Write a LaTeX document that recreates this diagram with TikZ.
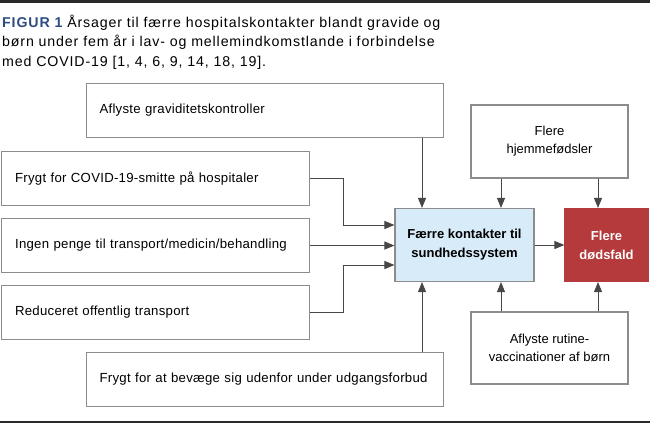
\documentclass[tikz,border=0pt]{standalone}
\usepackage{fontspec}
\setmainfont{Liberation Sans}
\usetikzlibrary{arrows.meta,calc}
\definecolor{boxgray}{HTML}{8C8C8C}
\definecolor{linegray}{HTML}{474747}
\definecolor{lightblue}{HTML}{D8EBF8}
\definecolor{deepred}{HTML}{B43A3C}
\definecolor{figblue}{HTML}{2E4C80}
\definecolor{bardark}{HTML}{2A2A2A}
\tikzset{
  box/.style={draw=boxgray, line width=1.1pt, fill=white, rectangle, font=\fontsize{13}{18}\selectfont},
  lbox/.style={box, anchor=north west, align=left, inner xsep=#1, inner ysep=0pt, minimum height=54pt, font=\fontsize{13.2}{18}\selectfont\addfontfeature{LetterSpace=2}},
  cbox/.style={box, align=center, inner sep=0pt},
  arr/.style={draw=linegray, line width=1pt, -{Triangle[length=10pt,width=8pt]}},
  captxt/.style={anchor=base west, inner sep=0pt, font=\fontsize{14.2}{20}\selectfont\addfontfeature{LetterSpace=6}}
}
\begin{document}
\begin{tikzpicture}[x=1pt,y=-1pt]
\useasboundingbox (0,0) rectangle (650,423);
\fill[bardark] (0,0) rectangle (650,2.7);
\fill[bardark] (0,420.8) rectangle (650,423);
% caption
\node[captxt] (cap1) at (2,27.4) {\textcolor{figblue}{\bfseries FIGUR 1} Årsager til færre hospitalskontakter blandt gravide og};
\node[captxt] (cap2) at (2,46.9) {børn under fem år i lav- og mellemindkomstlande i forbindelse};
\node[captxt] (cap3) at (2,66.4) {med COVID-19 [1, 4, 6, 9, 14, 18, 19].};
% left boxes
\node[lbox=13pt, text width=331pt] (a1) at (86,83) {Aflyste graviditetskontroller};
\node[lbox=14pt, text width=280.5pt] (f1) at (0.55,151) {Frygt for COVID-19-smitte på hospitaler};
\node[lbox=14pt, text width=280.5pt] (f2) at (0.55,218) {Ingen penge til transport/medicin/behandling};
\node[lbox=14pt, text width=280.5pt] (f3) at (0.55,285) {Reduceret offentlig transport};
\node[lbox=13pt, text width=331pt] (a2) at (86,352) {Frygt for at bevæge sig udenfor under udgangsforbud};
% central boxes
\node[cbox, fill=lightblue, minimum width=139pt, minimum height=73pt, font=\fontsize{13}{19}\selectfont\bfseries] (c) at (464.5,245) {Færre kontakter til\\sundhedssystem};
\node[cbox, fill=deepred, draw=deepred, text=white, minimum width=83pt, minimum height=73pt, font=\fontsize{13}{19}\selectfont\bfseries] (r) at (606.5,245) {Flere\\dødsfald};
\node[cbox, minimum width=157pt, minimum height=73pt] (h) at (549.5,141.5) {Flere\\hjemmefødsler};
\node[cbox, minimum width=157pt, minimum height=72pt] (v) at (549.5,348) {Aflyste rutine-\\vaccinationer af børn};
% guide coordinates
\coordinate (x1) at (422,0);
\coordinate (x2) at (501,0);
\coordinate (x3) at (598,0);
\coordinate (xb) at (343,0);
% connectors
\draw[arr] (a1.south -| x1) -- (c.north -| x1);
\draw[arr] (a2.north -| x1) -- (c.south -| x1);
\draw[arr] (f1.east) -| (f1.east -| xb) |- ($(c.west)+(0,-20)$);
\draw[arr] (f2.east) -- (f2.east -| c.west);
\draw[arr] (f3.east) -| (f3.east -| xb) |- ($(c.west)+(0,20)$);
\draw[arr] (h.south -| x2) -- (c.north -| x2);
\draw[arr] (h.south -| x3) -- (r.north -| x3);
\draw[arr] (v.north -| x2) -- (c.south -| x2);
\draw[arr] (v.north -| x3) -- (r.south -| x3);
\draw[arr] (c.east) -- (r.west);
\end{tikzpicture}
\end{document}
